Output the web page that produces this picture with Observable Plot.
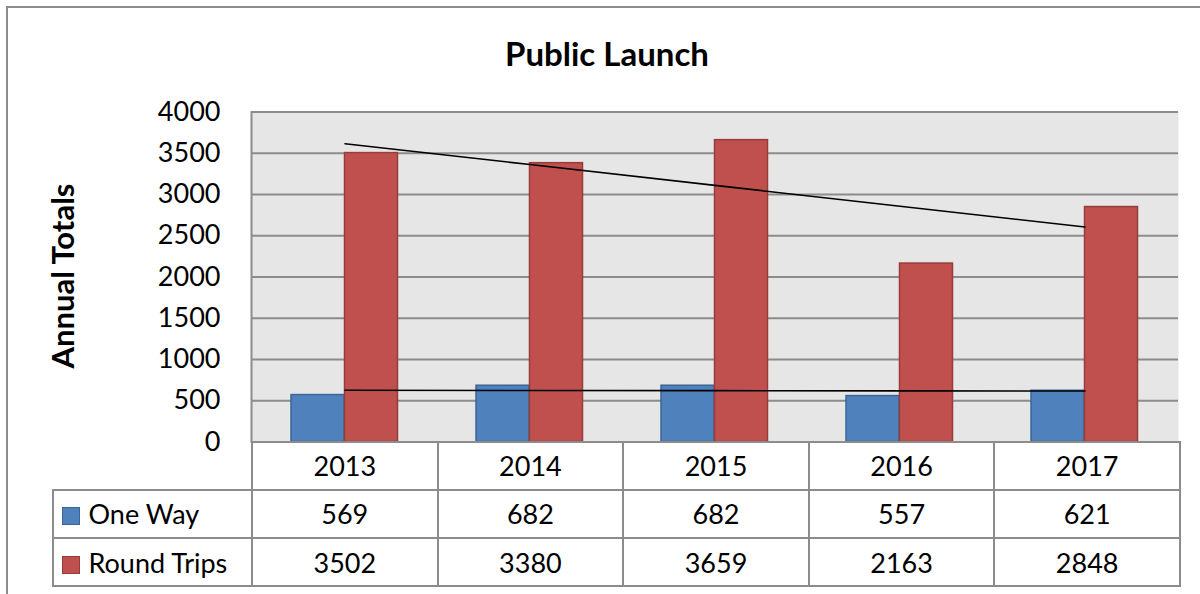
<!DOCTYPE html>
<html>
<head>
<meta charset="utf-8">
<script src="https://cdn.jsdelivr.net/npm/d3@7"></script>
<script src="https://cdn.jsdelivr.net/npm/@observablehq/plot@0.6"></script>
<style>
  html, body { margin: 0; padding: 0; background: #fff; }
  body { width: 1200px; height: 594px; overflow: hidden; font-family: Lato, "Open Sans", sans-serif; }
  #wrap { position: relative; width: 1200px; height: 594px; }
  #border { position: absolute; left: 6px; top: 6px; width: 1300px; height: 700px; border: 2px solid #8c8c8c; box-sizing: border-box; }
  #chart { position: absolute; left: 0; top: 0; }
  #title { position: absolute; left: 407px; width: 400px; top: 33px; text-align: center; font-weight: 700; font-size: 33px; line-height: 40px; }
  #ylabel { position: absolute; left: 62px; top: 276px; transform: translate(-50%, -50%) rotate(-90deg); font-weight: 700; font-size: 31px; white-space: nowrap; }
  #tbl { position: absolute; left: 51.5px; top: 440.5px; border-collapse: collapse; table-layout: fixed; width: 1127.5px; font-size: 27px; }
  #tbl td { border: 2px solid #8c8c8c; height: 46.3px; padding: 0; text-align: center; background: #fff; }
  #tbl td.corner { border-top: none; border-left: none; background: transparent; }
  #tbl td.lab { text-align: left; padding-left: 8px; white-space: nowrap; }
  .sw { display: inline-block; width: 16px; height: 16px; margin-right: 9px; vertical-align: -1px; border: 1.5px solid; }
</style>
</head>
<body>
<div id="wrap">
  <div id="border"></div>
  <div id="chart"></div>
  <div id="title"></div>
  <div id="ylabel"></div>
  <table id="tbl"></table>
</div>
<script>
const title = "Public Launch";
const yLabel = "Annual Totals";
const years = ["2013", "2014", "2015", "2016", "2017"];
const seriesNames = ["One Way", "Round Trips"];
const oneWay = [569, 682, 682, 557, 621];
const roundTrips = [3502, 3380, 3659, 2163, 2848];
const yTicks = [0, 500, 1000, 1500, 2000, 2500, 3000, 3500, 4000];

const fills = ["#4f81bd", "#c0504d"];
const strokes = ["#3b6696", "#963c3a"];

const seriesValues = [oneWay, roundTrips];
const rows = seriesValues.map((vals, s) => years.map((year, i) => ({year, value: vals[i], series: seriesNames[s]})));

// linear trend (least squares) over year index
function trend(vals) {
  const xs = vals.map((_, i) => i);
  const mx = d3.mean(xs), my = d3.mean(vals);
  const slope = d3.sum(xs, (x, i) => (x - mx) * (vals[i] - my)) / d3.sum(xs, x => (x - mx) ** 2);
  return years.map((year, i) => ({year, value: my + slope * (i - mx)}));
}

const chart = Plot.plot({
  width: 1200,
  height: 594,
  marginLeft: 251,
  marginRight: 22,
  marginTop: 111.5,
  marginBottom: 152.5,
  style: {fontFamily: "Lato, 'Open Sans', sans-serif", fontSize: "27px", color: "#000", background: "transparent"},
  x: {type: "band", domain: years, padding: 0, axis: null},
  y: {domain: [0, 4000], axis: null},
  marks: [
    Plot.frame({fill: "#e6e6e6", stroke: null}),
    Plot.gridY(yTicks, {stroke: "#8c8c8c", strokeOpacity: 1, strokeWidth: 2}),
    Plot.frame({anchor: "left", stroke: "#8c8c8c", strokeWidth: 2}),
    Plot.barY(rows[0], {x: "year", y: "value", fill: fills[0], stroke: strokes[0], strokeWidth: 1.5, insetLeft: 39, insetRight: 93}),
    Plot.barY(rows[1], {x: "year", y: "value", fill: fills[1], stroke: strokes[1], strokeWidth: 1.5, insetLeft: 92.5, insetRight: 39.5}),
    Plot.line(trend(oneWay), {x: "year", y: "value", stroke: "#000", strokeWidth: 1.6}),
    Plot.line(trend(roundTrips), {x: "year", y: "value", stroke: "#000", strokeWidth: 1.6}),
    Plot.axisY(yTicks, {tickSize: 0, tickPadding: 31, fontSize: 27, label: null, tickFormat: d => String(d)})
  ]
});
document.getElementById("chart").appendChild(chart);
document.getElementById("title").textContent = title;
document.getElementById("ylabel").textContent = yLabel;

// data table under the chart
const tbl = document.getElementById("tbl");
const colgroup = document.createElement("colgroup");
[199.5, ...years.map(() => 185.6)].forEach(w => {
  const c = document.createElement("col"); c.style.width = w + "px"; colgroup.appendChild(c);
});
tbl.appendChild(colgroup);
const head = document.createElement("tr");
const corner = document.createElement("td"); corner.className = "corner"; head.appendChild(corner);
years.forEach(y => { const td = document.createElement("td"); td.textContent = y; head.appendChild(td); });
tbl.appendChild(head);
seriesNames.forEach((name, s) => {
  const tr = document.createElement("tr");
  const lab = document.createElement("td"); lab.className = "lab";
  const sw = document.createElement("span"); sw.className = "sw";
  sw.style.background = fills[s]; sw.style.borderColor = strokes[s];
  lab.appendChild(sw); lab.appendChild(document.createTextNode(name));
  tr.appendChild(lab);
  seriesValues[s].forEach(v => { const td = document.createElement("td"); td.textContent = v; tr.appendChild(td); });
  tbl.appendChild(tr);
});
</script>
</body>
</html>
